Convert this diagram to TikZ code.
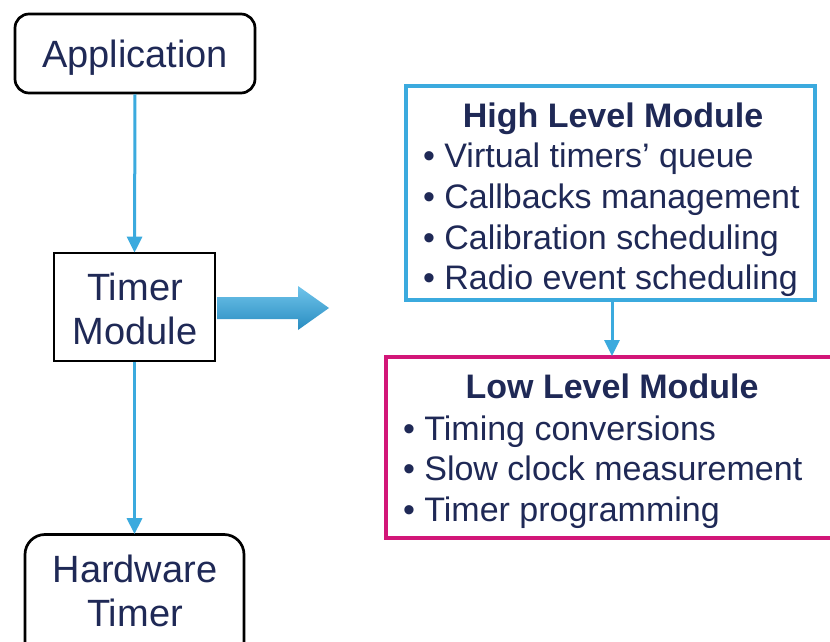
\documentclass[tikz,border=0pt]{standalone}
\usepackage{fontspec}
\setmainfont{Liberation Sans}
\usetikzlibrary{arrows.meta}
\definecolor{navy}{RGB}{31,41,86}
\definecolor{skyblue}{RGB}{59,170,222}
\definecolor{magentabox}{RGB}{210,22,120}
\definecolor{arrowtop}{RGB}{112,196,235}
\definecolor{arrowbot}{RGB}{40,140,192}
\tikzset{
  box/.style={draw=black, line width=2.7pt, minimum width=#1, inner sep=0pt},
  roundbox/.style={box=#1, rounded corners=14pt},
  panel/.style={draw=#1, line width=4pt, inner sep=0pt},
  conn/.style={draw=skyblue, line width=3pt, -{Triangle[length=16pt,width=15pt]}},
  big/.style={font=\fontsize{38}{44}\selectfont, text=navy, anchor=base},
  head/.style={font=\fontsize{34}{40}\selectfont\bfseries, text=navy, anchor=base},
  item/.style={font=\fontsize{34}{40}\selectfont, text=navy, anchor=base west},
}
\begin{document}
\begin{tikzpicture}[x=1pt,y=-1pt]
\clip (0,0) rectangle (830,642);
\fill[white] (0,0) rectangle (830,642);

% left column: boxes
\node[roundbox=240pt, minimum height=79pt] (app) at (135,53.5) {};
\node[box=161pt, minimum height=108pt] (tm) at (134.5,307) {};
\node[roundbox=219pt, minimum height=131pt, rounded corners=20pt] (hw) at (134.5,600) {};

\node[big] (appt) at (135,68) {Application};
\node[big] (tmt1) at (135,300) {Timer};
\node[big] (tmt2) at (135,344) {Module};
\node[big] (hwt1) at (135,582) {Hardware};
\node[big] (hwt2) at (135,626) {Timer};

% left column: connectors
\draw[conn] (app.south) -- ([yshift=-1pt]tm.north);
\draw[conn] (tm.south) -- ([yshift=-1pt]hw.north);

% block arrow from the timer module to its parts
\shade[top color=arrowtop, bottom color=arrowbot]
  (217,297) -- (298,297) -- (298,286) -- (329,308) -- (298,330) -- (298,319) -- (217,319) -- cycle;

% right column: module panels
\node[panel=skyblue, minimum width=409pt, minimum height=214pt] (high) at (610.5,193) {};
\node[panel=magentabox, minimum width=474pt, minimum height=181pt] (low) at (623,447.5) {};

\draw[conn] (high.south -| 612,0) -- ([yshift=-1pt]low.north -| 612,0);

\node[head] (hight) at (613,127) {High Level Module};
\node[item] (h1) at (419.5,167.5) {• Virtual timers’ queue};
\node[item] (h2) at (419.5,208) {• Callbacks management};
\node[item] (h3) at (419.5,249) {• Calibration scheduling};
\node[item] (h4) at (419.5,289.5) {• Radio event scheduling};

\node[head] (lowt) at (612,398) {Low Level Module};
\node[item] (l1) at (399.5,440) {• Timing conversions};
\node[item] (l2) at (399.5,480.5) {• Slow clock measurement};
\node[item] (l3) at (399.5,521) {• Timer programming};
\end{tikzpicture}
\end{document}
